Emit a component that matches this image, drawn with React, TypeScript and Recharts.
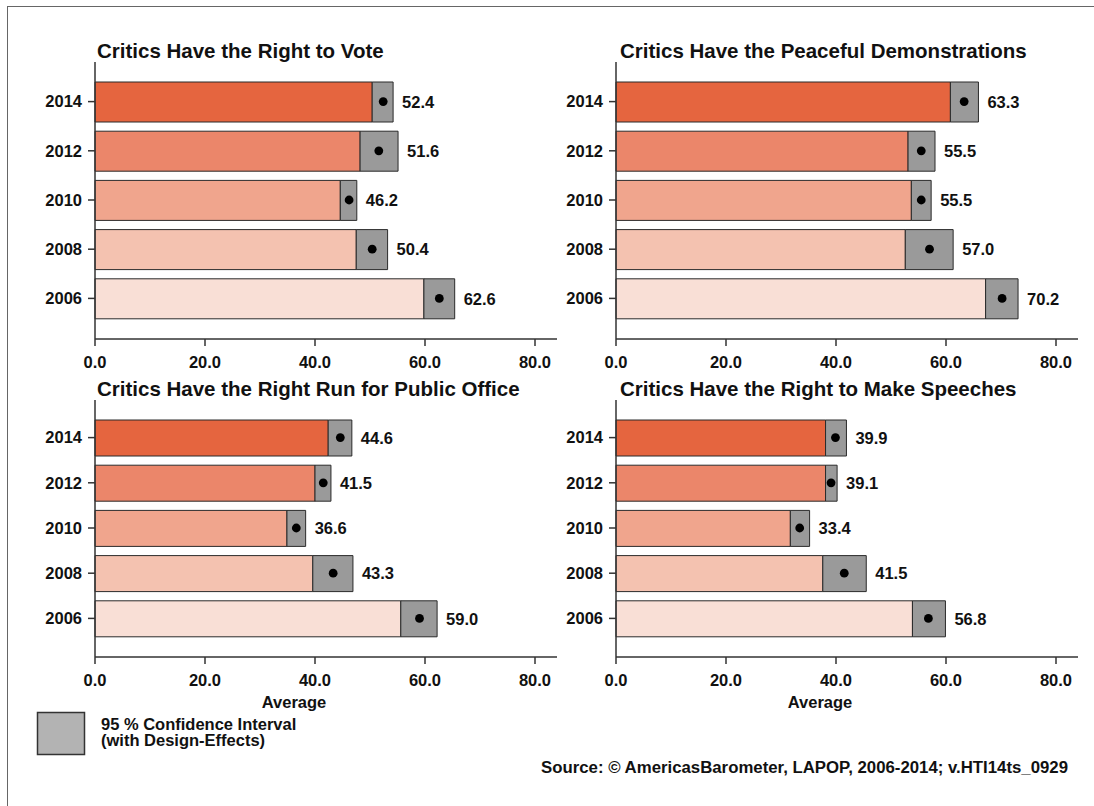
import { ComposedChart, Bar, Line, XAxis, YAxis, Cell, LabelList } from "recharts";

const YEARS = ["2014", "2012", "2010", "2008", "2006"];
const YEAR_COLORS = ["#E5653F", "#EB866A", "#F0A58D", "#F4C2B0", "#F9DFD6"];
const X_TICKS = [0, 20, 40, 60, 80];

const VOTE_MEAN = [52.4, 51.6, 46.2, 50.4, 62.6];
const VOTE_LOW = [50.4, 48.2, 44.6, 47.5, 59.8];
const VOTE_HIGH = [54.2, 55.1, 47.6, 53.2, 65.4];

const DEMO_MEAN = [63.3, 55.5, 55.5, 57.0, 70.2];
const DEMO_LOW = [60.8, 53.1, 53.7, 52.6, 67.2];
const DEMO_HIGH = [65.9, 58.0, 57.3, 61.3, 73.1];

const OFFICE_MEAN = [44.6, 41.5, 36.6, 43.3, 59.0];
const OFFICE_LOW = [42.4, 40.0, 34.9, 39.6, 55.6];
const OFFICE_HIGH = [46.7, 42.9, 38.3, 46.9, 62.2];

const SPEECH_MEAN = [39.9, 39.1, 33.4, 41.5, 56.8];
const SPEECH_LOW = [38.1, 38.1, 31.7, 37.6, 53.9];
const SPEECH_HIGH = [41.9, 40.2, 35.2, 45.5, 59.9];

const FONT = "'Liberation Sans', Arial, Helvetica, sans-serif";
const INK = "#111";
const AXIS = "#333";
const TICK_FONT = 16.5;

function buildRows(mean: number[], low: number[], high: number[]) {
  return YEARS.map((year, i) => ({
    year,
    mean: mean[i],
    lo: low[i],
    ci: +(high[i] - low[i]).toFixed(2),
  }));
}

interface PanelProps {
  mean: number[];
  low: number[];
  high: number[];
  left: number;
  top: number;
  width: number;
  height: number;
  margin: { top: number; right: number; bottom: number; left: number };
  barSize: number;
}

function Panel({ mean, low, high, left, top, width, height, margin, barSize }: PanelProps) {
  const rows = buildRows(mean, low, high);
  return (
    <div style={{ position: "absolute", left, top, width, height }}>
      <ComposedChart layout="vertical" width={width} height={height} data={rows} margin={margin}>
        <XAxis
          type="number"
          domain={[0, 84]}
          ticks={X_TICKS}
          tickFormatter={(v: number) => v.toFixed(1)}
          height={30}
          tickSize={7}
          tickMargin={10}
          axisLine={{ stroke: AXIS, strokeWidth: 1.5 }}
          tickLine={{ stroke: AXIS, strokeWidth: 1.5 }}
          tick={{ fill: INK, fontSize: TICK_FONT, fontWeight: "bold" }}
          interval={0}
        />
        <YAxis
          type="category"
          dataKey="year"
          width={60}
          padding={{ top: 15, bottom: 16 }}
          tickSize={7}
          tickMargin={6}
          axisLine={{ stroke: AXIS, strokeWidth: 1.5 }}
          tickLine={{ stroke: AXIS, strokeWidth: 1.5 }}
          tick={{ fill: INK, fontSize: TICK_FONT, fontWeight: "bold" }}
          interval={0}
        />
        <Bar dataKey="lo" stackId="a" barSize={barSize} stroke="#2a2a2a" strokeWidth={1} isAnimationActive={false}>
          {rows.map((r, i) => (
            <Cell key={r.year} fill={YEAR_COLORS[i]} />
          ))}
        </Bar>
        <Bar dataKey="ci" stackId="a" barSize={barSize} fill="#9A9A9A" stroke="#2a2a2a" strokeWidth={1} isAnimationActive={false}>
          <LabelList
            dataKey="mean"
            position="right"
            offset={9}
            formatter={(v: number) => Number(v).toFixed(1)}
            style={{ fill: INK, fontSize: TICK_FONT, fontWeight: "bold" }}
          />
        </Bar>
        <Line
          dataKey="mean"
          stroke="none"
          dot={{ r: 4.4, fill: "#000", stroke: "none" }}
          activeDot={false}
          legendType="none"
          isAnimationActive={false}
        />
      </ComposedChart>
    </div>
  );
}

export default function App() {
  const topMargin = { top: 62, right: 3, bottom: 11, left: 35 };
  const topMarginR = { top: 62, right: 16, bottom: 11, left: 16 };
  const botMargin = { top: 20, right: 3, bottom: 13, left: 35 };
  const botMarginR = { top: 20, right: 16, bottom: 13, left: 16 };
  const titleStyle = { fontSize: 20.5, fontWeight: "bold" as const, fill: INK };
  const smallBold = { fontSize: 16.5, fontWeight: "bold" as const, fill: INK };

  return (
    <div style={{ position: "absolute", left: 0, top: 0, width: 1094, height: 806, fontFamily: FONT, background: "#fff", overflow: "hidden" }}>
      <svg width={1094} height={806} style={{ position: "absolute", left: 0, top: 0 }}>
        <rect x={7.5} y={6.5} width={1200} height={900} fill="none" stroke="#666" strokeWidth={1} />
        <text x={97} y={58} style={titleStyle}>Critics Have the Right to Vote</text>
        <text x={620} y={58} style={titleStyle}>Critics Have the Peaceful Demonstrations</text>
        <text x={97} y={396} style={titleStyle}>Critics Have the Right Run for Public Office</text>
        <text x={620} y={396} style={titleStyle}>Critics Have the Right to Make Speeches</text>
        <text x={294} y={708} textAnchor="middle" style={smallBold}>Average</text>
        <text x={820} y={708} textAnchor="middle" style={smallBold}>Average</text>
        <rect x={37.5} y={712.5} width={47} height={42} fill="#B3B3B3" stroke="#333" strokeWidth={1.5} />
        <text x={101} y={730} style={smallBold}>95 % Confidence Interval</text>
        <text x={101} y={746} style={smallBold}>(with Design-Effects)</text>
        <text x={1068} y={773} textAnchor="end" style={{ ...smallBold, fontSize: 16.8 }}>
          Source: © AmericasBarometer, LAPOP, 2006-2014; v.HTI14ts_0929
        </text>
      </svg>
      <Panel mean={VOTE_MEAN} low={VOTE_LOW} high={VOTE_HIGH} left={0} top={0} width={560} height={380} margin={topMargin} barSize={40} />
      <Panel mean={DEMO_MEAN} low={DEMO_LOW} high={DEMO_HIGH} left={540} top={0} width={554} height={380} margin={topMarginR} barSize={40} />
      <Panel mean={OFFICE_MEAN} low={OFFICE_LOW} high={OFFICE_HIGH} left={0} top={380} width={560} height={320} margin={botMargin} barSize={36} />
      <Panel mean={SPEECH_MEAN} low={SPEECH_LOW} high={SPEECH_HIGH} left={540} top={380} width={554} height={320} margin={botMarginR} barSize={36} />
    </div>
  );
}
